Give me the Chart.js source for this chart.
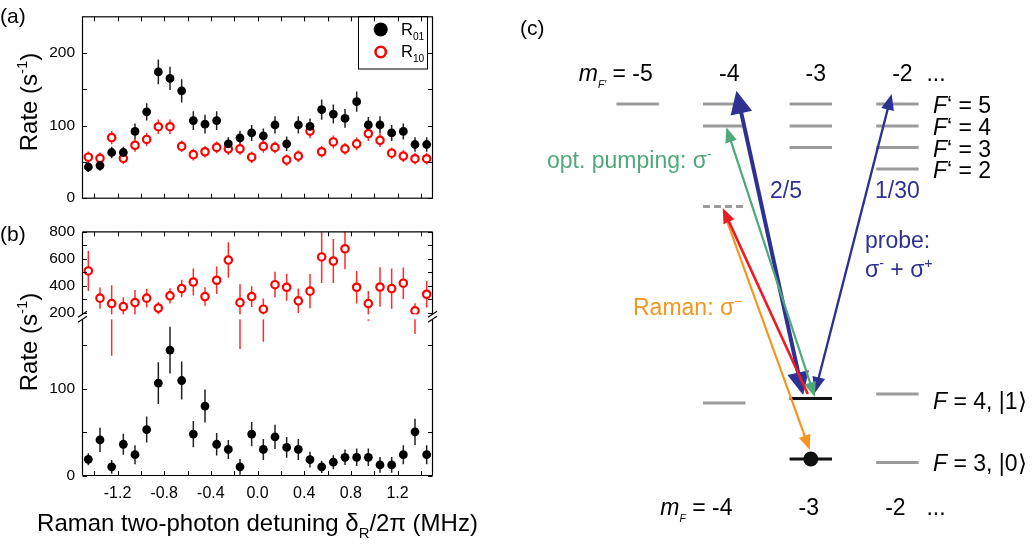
<!DOCTYPE html>
<html><head><meta charset="utf-8">
<script src="https://cdn.jsdelivr.net/npm/chart.js@4.4.0/dist/chart.umd.min.js"></script>
<style>
html,body{margin:0;padding:0;background:#fff;width:1032px;height:547px;overflow:hidden}
canvas{position:absolute}
</style></head><body>
<canvas id="ca" width="520" height="215" style="left:0;top:0"></canvas>
<canvas id="cb" width="520" height="332" style="left:0;top:215px"></canvas>
<canvas id="cc" width="512" height="547" style="left:520px;top:0"></canvas>
<script>
// ================= DATA =================
const detuning = [-1.45,-1.35,-1.25,-1.15,-1.05,-0.95,-0.85,-0.75,-0.65,-0.55,-0.45,-0.35,-0.25,-0.15,-0.05,0.05,0.15,0.25,0.35,0.45,0.55,0.65,0.75,0.85,0.95,1.05,1.15,1.25,1.35,1.45];
// panel (a)
const rate01A    = [43,45,63,63,92,119,174,165,148,107,102,107,75,83,90,86,101,75,101,99,122,116,110,133,101,101,90,92,74,74];
const rate01AErr = [7,7,8,8,11,12,17,16,16,13,13,13,9,10,11,10,12,10,12,11,14,13,13,14,11,12,11,11,10,10];
const rate10A    = [56.5,55,83.5,55,73,81,98.5,98.5,71.5,60,64,70,68,68,56.5,71.5,70,52.7,58,92.5,64,77.5,68,75,89,79.7,62,58,54.4,54.4];
const rate10AErr = [8,8,9,8,9,9,10,10,8,8,8,8,8,8,8,9,8,8,8,10,8,9,8,9,10,9,8,8,8,8];
// panel (b)
const rate01B    = [18.7,41,10,36,24,53,106.5,144.6,109.5,47.7,80,36,30,10,47.7,30,44.6,32.4,30,18.3,10,15.3,21,21,21,12.2,12.2,24,50.3,24];
const rate01BErr = [7,14,8,12,11,15,24,27,22,15,19,13,11,9,14,12,14,12,12,9,7,8,9,10,10,9,9,11,15,11];
const rate10B        = [509,307,267,244,274,307,233,324,378,427,319,440,590,274,319,225,407,388,287,359,613,583,674,388,267,390,378,418,213,336];
const rate10BErrUp   = [148,79,136,70,94,70,46,57,65,100,69,102,132,136,77,79,96,101,91,127,193,163,153,121,94,146,150,117,57,99];
const rate10BErrDown = [148,79,387,70,94,70,46,57,65,100,69,102,132,345,77,242,96,101,91,127,193,163,153,121,128,146,150,117,173,99];
// ticks
const xTickValues = [-1.2,-0.8,-0.4,0,0.4,0.8,1.2];
const xTickLabels = ['-1.2','-0.8','-0.4','0.0','0.4','0.8','1.2'];
const xMinorTicks = [-1.4,-1.0,-0.6,-0.2,0.2,0.6,1.0,1.4];
const yTicksA = [0,100,200];
const yMinorA = [50,150];
const yTicksBHigh = [200,400,600,800];
const yMinorBHigh = [300,500,700];
const yTicksBLow = [0,100];
const yMinorBLow = [50,150];
// panel (c): levels (mF, energy in arbitrary units)
const excitedMF = [-5,-4,-3,-2];
const excitedF = [5,4,3,2];
const excitedEnergy = [0,-2.2,-4.35,-6.5];
const groundMF = [-4,-3,-2];
const groundF4Energy = [-29.9,-29.45,-29.0];
const groundF3Energy = [null,-35.5,-35.85];
const virtualMF = [-4];
const virtualEnergy = [-10.25];
const atomMF = [-3];
const atomEnergy = [-35.5];
// transitions: orange Raman, probe sigma-, probe sigma+, red Raman, optical pumping
const arrowFromMF = [-4.006,-3.089,-2.954,-3.035,-2.954];
const arrowFromE  = [-10.8,-29.1,-28.9,-29.0,-29.3];
const arrowToMF   = [-3.012,-3.859,-2.067,-4.017,-3.975];
const arrowToE    = [-34.6,1.33,1.0,-10.4,-2.33];

// ================= STYLE / HELPERS =================
const FONT = "'Liberation Sans', Arial, Helvetica, sans-serif";
Chart.defaults.font.family = FONT;
Chart.defaults.color = '#000';
const COL = {blue:'#2e3192', green:'#4fa87a', orange:'#f7941d', red:'#ed1c24', gray:'#9b9b9b'};

function drawRich(ctx, x, y, parts, size, align, color) {
  const segs = parts.map(p => {
    const s = (p.sub || p.sup) ? size * (p.scale || 0.62) : size;
    const f = (p.it ? 'italic ' : '') + s + 'px ' + FONT;
    ctx.font = f;
    return {p, f, w: ctx.measureText(p.t).width};
  });
  const total = segs.reduce((a, b) => a + b.w, 0);
  let cx = align === 'center' ? x - total / 2 : (align === 'right' ? x - total : x);
  const base = y + size * 0.358;
  ctx.fillStyle = color; ctx.textAlign = 'left'; ctx.textBaseline = 'alphabetic';
  for (const s of segs) {
    ctx.font = s.f;
    let by = base;
    if (s.p.sub) by = base + size * (s.p.dy || 0.25);
    if (s.p.sup) by = base - size * (s.p.dy || 0.42);
    ctx.fillText(s.p.t, cx, by);
    cx += s.w;
  }
  return total;
}

const errorBarPlugin = {
  id: 'errbars',
  beforeDatasetsDraw(chart) {
    const {ctx, chartArea: a} = chart;
    ctx.save();
    ctx.beginPath(); ctx.rect(a.left, a.top, a.width, a.height); ctx.clip();
    chart.data.datasets.forEach(ds => {
      if (!ds.errUp) return;
      const xs = chart.scales[ds.xAxisID || 'x'], ys = chart.scales[ds.yAxisID || 'y'];
      ctx.strokeStyle = ds.errColor; ctx.lineWidth = 1.5;
      ds.data.forEach((p, j) => {
        const px = xs.getPixelForValue(p.x);
        ctx.beginPath();
        ctx.moveTo(px, ys.getPixelForValue(p.y + ds.errUp[j]));
        ctx.lineTo(px, ys.getPixelForValue(p.y - ds.errDown[j]));
        ctx.stroke();
      });
    });
    ctx.restore();
  }
};

function framePlugin(opts) {
  return {
    id: 'frame',
    afterDatasetsDraw(chart) {
      const {ctx, chartArea: a} = chart;
      const xs = chart.scales.x;
      const TL = 4.5;
      ctx.save();
      if (opts.breakAt) {
        const b = chart.scales[opts.breakAt].bottom;
        ctx.fillStyle = '#fff';
        ctx.fillRect(a.left - 6, b - 2.5, a.width + 12, 5);
      }
      ctx.strokeStyle = '#000'; ctx.lineWidth = 1;
      ctx.beginPath();
      for (const v of [...xTickValues, ...xMinorTicks]) {
        const px = Math.round(xs.getPixelForValue(v)) + 0.5;
        ctx.moveTo(px, a.bottom); ctx.lineTo(px, a.bottom - TL);
        ctx.moveTo(px, a.top); ctx.lineTo(px, a.top + TL);
      }
      for (const ax of opts.yAxes) {
        const s = chart.scales[ax.id];
        for (const v of ax.ticks) {
          const py = Math.round(s.getPixelForValue(v)) + 0.5;
          ctx.moveTo(a.left, py); ctx.lineTo(a.left + TL, py);
          ctx.moveTo(a.right, py); ctx.lineTo(a.right - TL, py);
        }
      }
      ctx.stroke();
      ctx.lineWidth = 1.2;
      if (opts.breakAt) {
        const b = chart.scales[opts.breakAt].bottom;
        ctx.beginPath();
        ctx.moveTo(a.left, a.top); ctx.lineTo(a.right, a.top);
        ctx.moveTo(a.left, a.bottom); ctx.lineTo(a.right, a.bottom);
        ctx.moveTo(a.left, a.top); ctx.lineTo(a.left, b - 2.5);
        ctx.moveTo(a.left, b + 2.5); ctx.lineTo(a.left, a.bottom);
        ctx.moveTo(a.right, a.top); ctx.lineTo(a.right, b - 2.5);
        ctx.moveTo(a.right, b + 2.5); ctx.lineTo(a.right, a.bottom);
        for (const xx of [a.left, a.right]) {
          for (const dy of [-2.5, 2.5]) {
            ctx.moveTo(xx - 4.5, b + dy + 3); ctx.lineTo(xx + 4.5, b + dy - 3);
          }
        }
        ctx.stroke();
      } else {
        ctx.strokeRect(a.left, a.top, a.width, a.height);
      }
      ctx.restore();
    }
  };
}

const baseOpts = {
  responsive: false, animation: false, devicePixelRatio: 1,
  events: [],
  plugins: {legend: {display: false}, tooltip: {enabled: false}}
};
const pts = (ys) => detuning.map((x, i) => ({x, y: ys[i]}));

// ================= PANEL (a) =================
new Chart(document.getElementById('ca'), {
  type: 'scatter',
  data: {datasets: [
    {data: pts(rate01A), errUp: rate01AErr, errDown: rate01AErr, errColor: '#222',
     pointRadius: 4.4, backgroundColor: '#000', borderColor: '#000', borderWidth: 0},
    {data: pts(rate10A), errUp: rate10AErr, errDown: rate10AErr, errColor: '#ff2a2a',
     pointRadius: 3.7, backgroundColor: '#fff', borderColor: '#ff0000', borderWidth: 2.2}
  ]},
  options: {...baseOpts,
    layout: {padding: {left: 0, top: 4.5, right: 87.5, bottom: 0}},
    scales: {
      x: {type: 'linear', min: -1.5, max: 1.5, ticks: {display: false},
          grid: {display: false, drawTicks: false}, border: {display: false},
          afterFit: s => { s.height = 215 - 199.5; }},
      y: {type: 'linear', min: 0, max: 250,
          afterBuildTicks: s => { s.ticks = yTicksA.map(v => ({value: v})); },
          ticks: {font: {size: 15.5}, color: '#000', padding: 7.5, autoSkip: false},
          grid: {display: false, drawTicks: false}, border: {display: false},
          afterFit: s => { s.width = 82.5; }}
    }
  },
  plugins: [errorBarPlugin, framePlugin({yAxes: [{id: 'y', ticks: [...yTicksA, ...yMinorA]}]}), {
    id: 'decorA',
    afterDraw(chart) {
      const ctx = chart.ctx;
      ctx.save();
      drawRich(ctx, 0, 15, [{t: '(a)'}], 21, 'left', '#000');
      ctx.translate(28, 102); ctx.rotate(-Math.PI / 2);
      drawRich(ctx, 0, 0, [{t: 'Rate (s'}, {t: '-1', sup: true}, {t: ')'}], 24, 'center', '#000');
      ctx.restore();
      // legend
      ctx.save();
      ctx.strokeStyle = '#000'; ctx.lineWidth = 1;
      ctx.strokeRect(358.5, 16.5, 69, 52.5);
      ctx.fillStyle = '#000';
      ctx.beginPath(); ctx.arc(380.7, 29.5, 7, 0, Math.PI * 2); ctx.fill();
      ctx.strokeStyle = '#ff0000'; ctx.lineWidth = 2.6;
      ctx.beginPath(); ctx.arc(380.7, 52, 5.2, 0, Math.PI * 2); ctx.stroke();
      drawRich(ctx, 401, 29, [{t: 'R'}, {t: '01', sub: true, dy: 0.32}], 16.5, 'left', '#000');
      drawRich(ctx, 401, 51, [{t: 'R'}, {t: '10', sub: true, dy: 0.32}], 16.5, 'left', '#000');
      ctx.restore();
    }
  }]
});

// ================= PANEL (b) =================
new Chart(document.getElementById('cb'), {
  type: 'scatter',
  data: {datasets: [
    {data: pts(rate01B), yAxisID: 'yLow', errUp: rate01BErr, errDown: rate01BErr, errColor: '#222',
     pointRadius: 4.4, backgroundColor: '#000', borderColor: '#000', borderWidth: 0},
    {data: pts(rate10B), yAxisID: 'yHigh', errUp: rate10BErrUp, errDown: rate10BErrDown, errColor: '#ff2a2a',
     pointRadius: 3.7, backgroundColor: '#fff', borderColor: '#ff0000', borderWidth: 2.2}
  ]},
  options: {...baseOpts,
    layout: {padding: {left: 0, top: 15.5, right: 87.5, bottom: 0}},
    scales: {
      x: {type: 'linear', min: -1.5, max: 1.5,
          afterBuildTicks: s => { s.ticks = xTickValues.map(v => ({value: v})); },
          ticks: {font: {size: 16}, color: '#000', padding: 8.5, autoSkip: false, maxRotation: 0,
                  callback: (v, i) => xTickLabels[i]},
          grid: {display: false, drawTicks: false}, border: {display: false},
          afterFit: s => { s.height = 332 - 260.5; }},
      yLow: {type: 'linear', position: 'left', stack: 'rate', stackWeight: 159.5, weight: 1,
          min: 0, max: 182.9,
          afterBuildTicks: s => { s.ticks = yTicksBLow.map(v => ({value: v})); },
          ticks: {font: {size: 15.5}, color: '#000', padding: 7.5, autoSkip: false},
          grid: {display: false, drawTicks: false}, border: {display: false},
          afterFit: s => { s.width = 82.5; }},
      yHigh: {type: 'linear', position: 'left', stack: 'rate', stackWeight: 85.5, weight: 2,
          min: 168.2, max: 800,
          afterBuildTicks: s => { s.ticks = yTicksBHigh.map(v => ({value: v})); },
          ticks: {font: {size: 15.5}, color: '#000', padding: 7.5, autoSkip: false},
          grid: {display: false, drawTicks: false}, border: {display: false},
          afterFit: s => { s.width = 82.5; }}
    }
  },
  plugins: [errorBarPlugin, framePlugin({breakAt: 'yHigh', yAxes: [
    {id: 'yLow', ticks: [...yTicksBLow, ...yMinorBLow]},
    {id: 'yHigh', ticks: [...yTicksBHigh, ...yMinorBHigh]}]}), {
    id: 'decorB',
    afterDraw(chart) {
      const ctx = chart.ctx;
      ctx.save();
      drawRich(ctx, 0, 18, [{t: '(b)'}], 21, 'left', '#000');
      drawRich(ctx, 257.5, 307, [{t: 'Raman two-photon detuning δ'}, {t: 'R', sub: true, dy: 0.3}, {t: '/2π (MHz)'}], 24, 'center', '#000');
      ctx.translate(28, 127); ctx.rotate(-Math.PI / 2);
      drawRich(ctx, 0, 0, [{t: 'Rate (s'}, {t: '-1', sup: true}, {t: ')'}], 24, 'center', '#000');
      ctx.restore();
    }
  }]
});

// ================= PANEL (c) =================
const HW = 0.245;
function segs(list) {
  const out = [];
  list.forEach(([m, e]) => { out.push({x: m - HW, y: e}, {x: m + HW, y: e}, {x: m, y: null}); });
  return out;
}
const excitedList = [];
excitedMF.forEach(m => excitedF.forEach((F, j) => { if (Math.abs(m) <= F) excitedList.push([m, excitedEnergy[j]]); }));
const grayGround = [], blackGround = [];
groundMF.forEach((m, i) => {
  const tgt = atomMF.includes(m) ? blackGround : grayGround;
  tgt.push([m, groundF4Energy[i]]);
  if (groundF3Energy[i] !== null) tgt.push([m, groundF3Energy[i]]);
});
const lineDs = (data, color, extra) => Object.assign({data, showLine: true, spanGaps: false, pointRadius: 0,
  borderColor: color, borderWidth: 3, borderCapStyle: 'butt'}, extra || {});

const arrowStyle = [
  {color: COL.orange, w: 2.2, hl: 15, hw: 12, start: false, end: true},
  {color: COL.blue, w: 4, hl: 23, hw: 22, start: true, end: true},
  {color: COL.blue, w: 2.3, hl: 16, hw: 13, start: true, end: true},
  {color: COL.red, w: 2.6, hl: 15, hw: 12, start: false, end: true},
  {color: COL.green, w: 2.2, hl: 15, hw: 12, start: true, end: true}
];
function head(ctx, tx, ty, ux, uy, hl, hw) {
  const bx = tx - ux * hl, by = ty - uy * hl;
  ctx.beginPath();
  ctx.moveTo(tx, ty);
  ctx.lineTo(bx - uy * hw / 2, by + ux * hw / 2);
  ctx.lineTo(bx + uy * hw / 2, by - ux * hw / 2);
  ctx.closePath(); ctx.fill();
}
const arrowPlugin = {
  id: 'arrows',
  afterDatasetsDraw(chart) {
    const {ctx} = chart, xs = chart.scales.x, ys = chart.scales.y;
    ctx.save();
    arrowFromMF.forEach((m, i) => {
      const st = arrowStyle[i];
      const x1 = xs.getPixelForValue(m), y1 = ys.getPixelForValue(arrowFromE[i]);
      const x2 = xs.getPixelForValue(arrowToMF[i]), y2 = ys.getPixelForValue(arrowToE[i]);
      const L = Math.hypot(x2 - x1, y2 - y1), ux = (x2 - x1) / L, uy = (y2 - y1) / L;
      const sx = st.start ? x1 + ux * st.hl * 0.8 : x1, sy = st.start ? y1 + uy * st.hl * 0.8 : y1;
      const ex = st.end ? x2 - ux * st.hl * 0.8 : x2, ey = st.end ? y2 - uy * st.hl * 0.8 : y2;
      ctx.strokeStyle = st.color; ctx.fillStyle = st.color; ctx.lineWidth = st.w;
      ctx.beginPath(); ctx.moveTo(sx, sy); ctx.lineTo(ex, ey); ctx.stroke();
      if (st.end) head(ctx, x2, y2, ux, uy, st.hl, st.hw);
      if (st.start) head(ctx, x1, y1, -ux, -uy, st.hl, st.hw);
    });
    ctx.restore();
  },
  afterDraw(chart) {
    const {ctx} = chart, xs = chart.scales.x, ys = chart.scales.y;
    const S = 23;
    ctx.save();
    drawRich(ctx, 0, 27, [{t: '(c)'}], 21, 'left', '#000');
    // top mF' labels
    excitedMF.forEach((m, i) => {
      const cx = xs.getPixelForValue(m) + 5;
      if (i === 0) {
        ctx.font = S + 'px ' + FONT;
        const w = ctx.measureText('-5').width;
        drawRich(ctx, cx + w / 2, 73, [{t: 'm', it: true}, {t: 'F\u2032', sub: true, it: true, scale: 0.45, dy: 0.3}, {t: ' = -5'}], S, 'right', '#000');
      } else {
        drawRich(ctx, cx, 73, [{t: String(m)}], S, 'center', '#000');
      }
    });
    drawRich(ctx, xs.getPixelForValue(-2) + 29, 73, [{t: '...'}], S, 'left', '#000');
    // excited-level labels
    excitedF.forEach((F, j) => {
      drawRich(ctx, 413, ys.getPixelForValue(excitedEnergy[j]) + 1, [{t: 'F', it: true}, {t: '\u2018 = ' + F}], S, 'left', '#000');
    });
    drawRich(ctx, 413, ys.getPixelForValue(groundF4Energy[2]) + 7, [{t: 'F', it: true}, {t: ' = 4, |1\u27E9'}], S, 'left', '#000');
    drawRich(ctx, 413, ys.getPixelForValue(groundF3Energy[2]), [{t: 'F', it: true}, {t: ' = 3, |0\u27E9'}], S, 'left', '#000');
    // bottom mF labels
    groundMF.forEach((m, i) => {
      const cx = xs.getPixelForValue(m) - 2;
      if (i === 0) {
        ctx.font = S + 'px ' + FONT;
        const w = ctx.measureText('-4').width;
        drawRich(ctx, cx + w / 2, 507, [{t: 'm', it: true}, {t: 'F', sub: true, it: true, scale: 0.45, dy: 0.3}, {t: ' = -4'}], S, 'right', '#000');
      } else {
        drawRich(ctx, cx, 507, [{t: String(m)}], S, 'center', '#000');
      }
    });
    drawRich(ctx, xs.getPixelForValue(-2) + 29, 507, [{t: '...'}], S, 'left', '#000');
    // transition labels
    drawRich(ctx, 27, 160, [{t: 'opt. pumping: σ'}, {t: '-', sup: true}], S, 'left', COL.green);
    drawRich(ctx, 250, 190, [{t: '2/5'}], S, 'left', COL.blue);
    drawRich(ctx, 355, 190, [{t: '1/30'}], S, 'left', COL.blue);
    drawRich(ctx, 345, 240, [{t: 'probe:'}], S, 'left', COL.blue);
    drawRich(ctx, 345, 269, [{t: 'σ'}, {t: '-', sup: true}, {t: ' + σ'}, {t: '+', sup: true}], S, 'left', COL.blue);
    drawRich(ctx, 113, 307, [{t: 'Raman: σ'}, {t: '\u2212', sup: true}], S, 'left', COL.orange);
    ctx.restore();
  }
};

new Chart(document.getElementById('cc'), {
  type: 'scatter',
  data: {datasets: [
    lineDs(segs(excitedList), COL.gray),
    lineDs(segs(grayGround), COL.gray),
    lineDs(segs(blackGround), '#111'),
    lineDs(segs(virtualMF.map((m, i) => [m, virtualEnergy[i]])), COL.gray, {borderDash: [7, 4]}),
    {data: atomMF.map((m, i) => ({x: m, y: atomEnergy[i]})), pointRadius: 7.5, backgroundColor: '#111', borderWidth: 0}
  ]},
  options: {...baseOpts,
    layout: {padding: {left: 31, right: 48, top: 54, bottom: 43}},
    scales: {
      x: {type: 'linear', min: -6, max: -1, display: false},
      y: {type: 'linear', min: -40, max: 5, display: false}
    }
  },
  plugins: [arrowPlugin]
});
</script>
</body></html>
